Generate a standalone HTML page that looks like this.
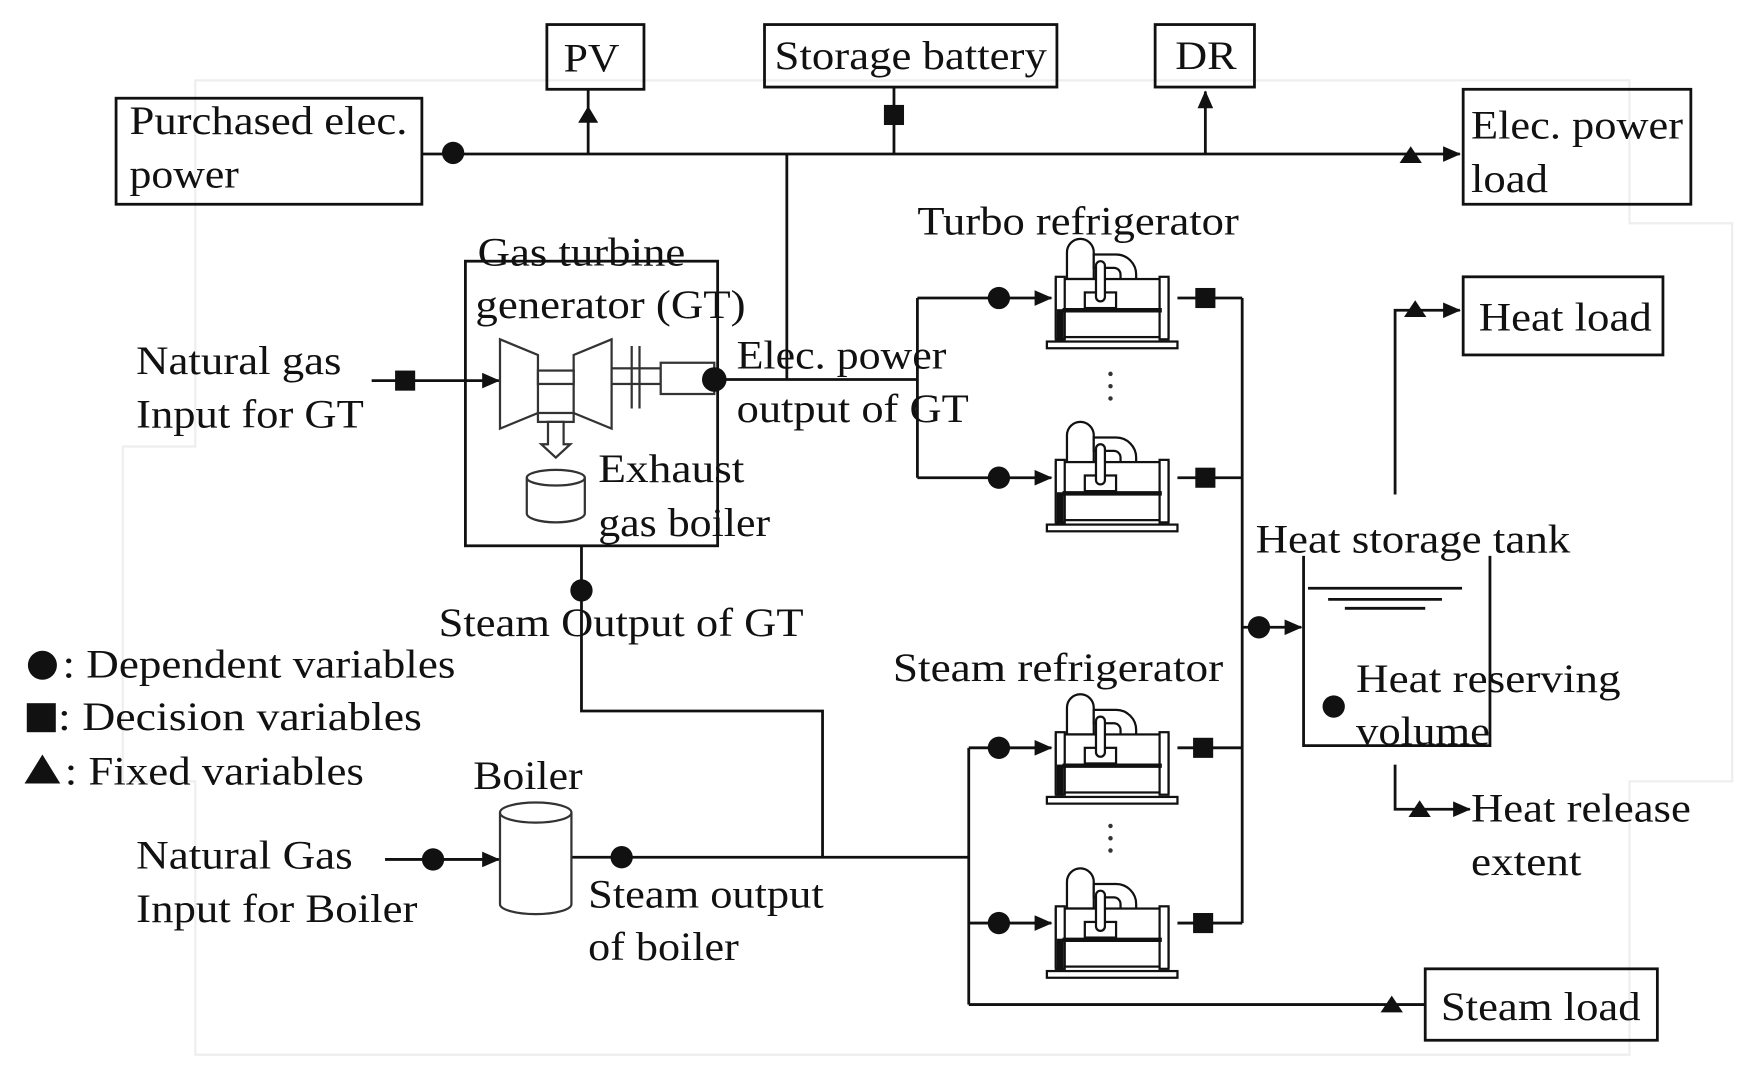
<!DOCTYPE html>
<html><head><meta charset="utf-8"><style>
html,body{margin:0;padding:0;background:#fff}
svg{display:block}
text{font-family:"Liberation Serif",serif;font-size:36px;fill:#111}
</style></head><body>
<svg width="1750" height="1081" viewBox="0 0 1568 968.5" preserveAspectRatio="none" xmlns="http://www.w3.org/2000/svg">
<defs>
<marker id="ar" markerWidth="16" markerHeight="14" refX="15" refY="7" orient="auto" markerUnits="userSpaceOnUse" viewBox="0 0 16 14"><path d="M0,0 L16,7 L0,14z" fill="#111"/></marker>
<g id="ref" fill="#fff" stroke="#111" stroke-width="2">
<path d="M18,12 a12,12 0 0 1 24,0 v24 h-24z"/>
<path d="M42,14 h20 a18,18 0 0 1 18,18 v6 h-14 v-6 a6,6 0 0 0 -6,-6 h-18z"/>
<rect x="8" y="36" width="101" height="52"/>
<rect x="8" y="34" width="8" height="56"/>
<rect x="101" y="34" width="8" height="56"/>
<line x1="14" y1="64" x2="103" y2="64" stroke-width="4"/>
<rect x="34" y="48" width="28" height="14"/>
<rect x="44" y="20" width="8" height="36" rx="4"/>
<rect x="0" y="92" width="117" height="6"/>
<rect x="10" y="64" width="4" height="26" fill="#111"/>
</g>
</defs>
<rect x="0" y="0" width="1568" height="968.5" fill="#fff"/>
<path d="M175,72 H1460 V200 H1552 V700 H1460 V945 H175 V700 H110 V400 H175 Z" fill="none" stroke="#eee" stroke-width="2"/>
<g fill="none" stroke="#111" stroke-width="2.5">
<rect x="490" y="22" width="87" height="58"/>
<rect x="685" y="22" width="262" height="56"/>
<rect x="1035" y="22" width="89" height="56"/>
<rect x="104" y="88" width="274" height="95"/>
<rect x="1311" y="80" width="204" height="103"/>
<rect x="1311" y="248" width="179" height="70"/>
<rect x="1277" y="868" width="208" height="64"/>
<rect x="417" y="234" width="226" height="255"/>
<line x1="378" y1="138" x2="1308" y2="138" marker-end="url(#ar)"/>
<line x1="527" y1="138" x2="527" y2="80"/>
<line x1="801" y1="138" x2="801" y2="78"/>
<line x1="1080" y1="138" x2="1080" y2="82" marker-end="url(#ar)"/>
<line x1="705" y1="138" x2="705" y2="340"/>
<line x1="640" y1="340" x2="822" y2="340"/>
<line x1="822" y1="267" x2="822" y2="428"/>
<line x1="822" y1="267" x2="942" y2="267" marker-end="url(#ar)"/>
<line x1="822" y1="428" x2="942" y2="428" marker-end="url(#ar)"/>
<line x1="1055" y1="267" x2="1113" y2="267"/>
<line x1="1055" y1="428" x2="1113" y2="428"/>
<line x1="1055" y1="670" x2="1113" y2="670"/>
<line x1="1055" y1="827" x2="1113" y2="827"/>
<line x1="1113" y1="267" x2="1113" y2="827"/>
<line x1="1113" y1="562" x2="1166" y2="562" marker-end="url(#ar)"/>
<polyline points="1168,498 1168,668 1335,668 1335,498"/>
<line x1="1172" y1="527" x2="1310" y2="527"/>
<line x1="1190" y1="537" x2="1292" y2="537"/>
<line x1="1205" y1="545" x2="1277" y2="545"/>
<polyline points="1250,443 1250,278 1308,278" marker-end="url(#ar)"/>
<polyline points="1250,685 1250,725 1317,725" marker-end="url(#ar)"/>
<line x1="333" y1="341" x2="447" y2="341" marker-end="url(#ar)"/>
<polyline points="521,489 521,637 737,637 737,768"/>
<line x1="345" y1="770" x2="447" y2="770" marker-end="url(#ar)"/>
<line x1="512" y1="768" x2="868" y2="768"/>
<line x1="868" y1="670" x2="868" y2="900"/>
<line x1="868" y1="670" x2="942" y2="670" marker-end="url(#ar)"/>
<line x1="868" y1="827" x2="942" y2="827" marker-end="url(#ar)"/>
<line x1="868" y1="900" x2="1276" y2="900"/>
</g>
<g fill="#fff" stroke="#333" stroke-width="2">
<path d="M448,304 L482,318 V370 L448,384Z"/>
<path d="M548,304 L514,318 V370 L548,384Z"/>
<rect x="482" y="332" width="32" height="12"/>
<rect x="548" y="330" width="44" height="14"/>
<line x1="566" y1="310" x2="566" y2="366"/><line x1="573" y1="310" x2="573" y2="366"/>
<rect x="592" y="325" width="48" height="28"/>
<rect x="482" y="370" width="32" height="8"/>
<path d="M491,378 h14 v20 h6 l-13,12 l-13,-12 h6z"/>
<path d="M472,428 v32 a26,8 0 0 0 52,0 v-32"/>
<ellipse cx="498" cy="428" rx="26" ry="7"/>
<path d="M448,728 v82 a32,9 0 0 0 64,0 v-82"/>
<ellipse cx="480" cy="728" rx="32" ry="9"/>
</g>
<use href="#ref" x="938" y="214"/>
<use href="#ref" x="938" y="378"/>
<use href="#ref" x="938" y="622"/>
<use href="#ref" x="938" y="778"/>
<g fill="#333"><circle cx="995" cy="335" r="2"/><circle cx="995" cy="346" r="2"/><circle cx="995" cy="357" r="2"/>
<circle cx="995" cy="740" r="2"/><circle cx="995" cy="751" r="2"/><circle cx="995" cy="762" r="2"/></g>
<g fill="#111">
<circle cx="406" cy="137" r="10"/>
<path d="M518,110 L527,95 L536,110Z"/>
<rect x="792" y="94" width="18" height="18"/>
<path d="M1254,146 L1264,131 L1274,146Z"/>
<circle cx="640" cy="340" r="11"/>
<rect x="354" y="332" width="18" height="18"/>
<circle cx="895" cy="267" r="10"/><circle cx="895" cy="428" r="10"/>
<circle cx="895" cy="670" r="10"/><circle cx="895" cy="827" r="10"/>
<rect x="1071" y="258" width="18" height="18"/><rect x="1071" y="419" width="18" height="18"/>
<rect x="1069" y="661" width="18" height="18"/><rect x="1069" y="818" width="18" height="18"/>
<circle cx="1128" cy="562" r="10"/>
<circle cx="1195" cy="633" r="10"/>
<path d="M1258,284 L1268,269 L1278,284Z"/>
<path d="M1262,732 L1272,717 L1282,732Z"/>
<path d="M1237,907 L1247,892 L1257,907Z"/>
<circle cx="521" cy="529" r="10"/>
<circle cx="388" cy="770" r="10"/>
<circle cx="557" cy="768" r="10"/>
<circle cx="38" cy="596" r="13"/>
<rect x="24" y="630" width="26" height="26"/>
<path d="M22,702 L38,676 L54,702Z"/>
</g>
<g>
<text x="505" y="64" textLength="50" lengthAdjust="spacingAndGlyphs">PV</text>
<text x="694" y="62" textLength="244" lengthAdjust="spacingAndGlyphs">Storage battery</text>
<text x="1053" y="62" textLength="55" lengthAdjust="spacingAndGlyphs">DR</text>
<text x="116" y="120" textLength="249" lengthAdjust="spacingAndGlyphs">Purchased elec.</text>
<text x="116" y="168" textLength="98" lengthAdjust="spacingAndGlyphs">power</text>
<text x="1318" y="124" textLength="190" lengthAdjust="spacingAndGlyphs">Elec. power</text>
<text x="1318" y="172" textLength="69" lengthAdjust="spacingAndGlyphs">load</text>
<text x="1325" y="296" textLength="155" lengthAdjust="spacingAndGlyphs">Heat load</text>
<text x="1291" y="914" textLength="179" lengthAdjust="spacingAndGlyphs">Steam load</text>
<text x="428" y="238" textLength="186" lengthAdjust="spacingAndGlyphs">Gas turbine</text>
<text x="426" y="285" textLength="242" lengthAdjust="spacingAndGlyphs">generator (GT)</text>
<text x="660" y="330" textLength="188" lengthAdjust="spacingAndGlyphs">Elec. power</text>
<text x="660" y="378" textLength="208" lengthAdjust="spacingAndGlyphs">output of GT</text>
<text x="536" y="432" textLength="131" lengthAdjust="spacingAndGlyphs">Exhaust</text>
<text x="536" y="480" textLength="154" lengthAdjust="spacingAndGlyphs">gas boiler</text>
<text x="122" y="335" textLength="184" lengthAdjust="spacingAndGlyphs">Natural gas</text>
<text x="122" y="383" textLength="204" lengthAdjust="spacingAndGlyphs">Input for GT</text>
<text x="822" y="210" textLength="288" lengthAdjust="spacingAndGlyphs">Turbo refrigerator</text>
<text x="1125" y="495" textLength="282" lengthAdjust="spacingAndGlyphs">Heat storage tank</text>
<text x="1215" y="620" textLength="237" lengthAdjust="spacingAndGlyphs">Heat reserving</text>
<text x="1215" y="667" textLength="120" lengthAdjust="spacingAndGlyphs">volume</text>
<text x="393" y="570" textLength="327" lengthAdjust="spacingAndGlyphs">Steam Output of GT</text>
<text x="800" y="610" textLength="296" lengthAdjust="spacingAndGlyphs">Steam refrigerator</text>
<text x="56" y="607" textLength="352" lengthAdjust="spacingAndGlyphs">: Dependent variables</text>
<text x="52" y="654" textLength="326" lengthAdjust="spacingAndGlyphs">: Decision variables</text>
<text x="58" y="703" textLength="268" lengthAdjust="spacingAndGlyphs">: Fixed variables</text>
<text x="424" y="707" textLength="98" lengthAdjust="spacingAndGlyphs">Boiler</text>
<text x="122" y="778" textLength="194" lengthAdjust="spacingAndGlyphs">Natural Gas</text>
<text x="122" y="826" textLength="252" lengthAdjust="spacingAndGlyphs">Input for Boiler</text>
<text x="527" y="813" textLength="211" lengthAdjust="spacingAndGlyphs">Steam output</text>
<text x="527" y="860" textLength="135" lengthAdjust="spacingAndGlyphs">of boiler</text>
<text x="1318" y="736" textLength="197" lengthAdjust="spacingAndGlyphs">Heat release</text>
<text x="1318" y="784" textLength="99" lengthAdjust="spacingAndGlyphs">extent</text>
</g>
</svg>
</body></html>
